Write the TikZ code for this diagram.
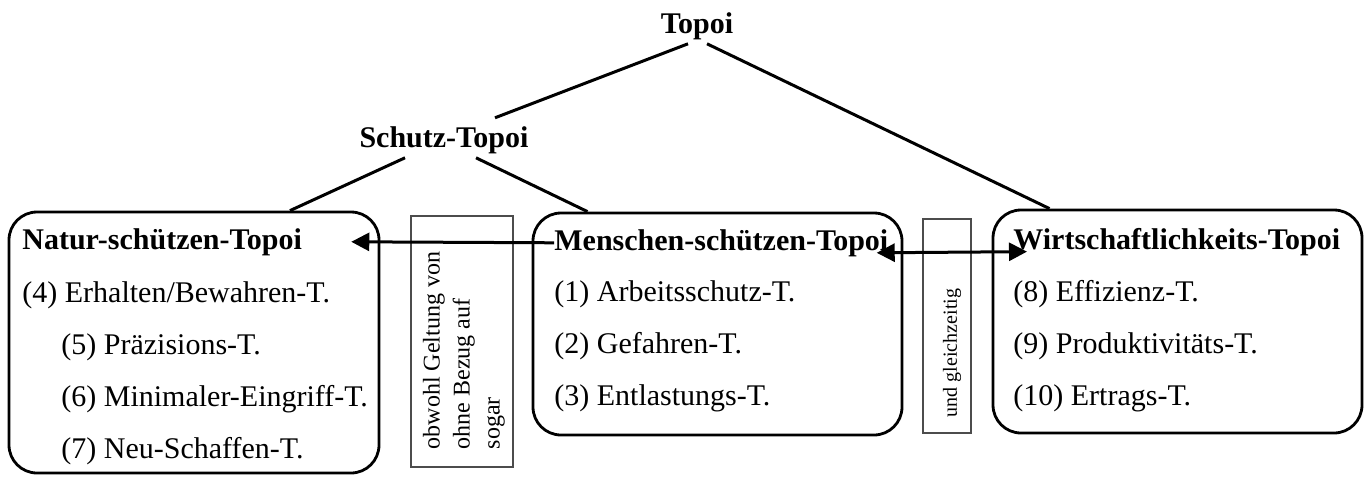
\documentclass[tikz,border=0pt]{standalone}
\usepackage{fontspec}
\setmainfont{Liberation Serif}
\usetikzlibrary{arrows.meta}

\begin{document}
\begin{tikzpicture}[x=0.5pt,y=-0.5pt,
    head/.style={font=\fontsize{15}{18}\selectfont\bfseries,inner sep=2pt},
    ttl/.style={font=\fontsize{15}{18}\selectfont\bfseries,inner sep=0pt,anchor=base west},
    item/.style={font=\fontsize{15}{18}\selectfont,inner sep=0pt,anchor=base west},
    topbox/.style={draw,line width=1.4pt,rounded corners=14pt},
    notebox/.style={draw=black!70,line width=1pt},
    link/.style={line width=1.5pt},
    arr/.style={line width=1.5pt,-{Triangle[length=9pt,width=9pt]}},
    arrboth/.style={line width=1.5pt,{Triangle[length=9pt,width=9pt]}-{Triangle[length=9pt,width=9pt]}}]
      \useasboundingbox (0,0) rectangle (1370,484);
      \node[head,anchor=base] (topoi) at (697,33) {Topoi};
      \node[head,anchor=base] (schutz) at (444,147) {Schutz-Topoi};
      \node[topbox,minimum width=185pt,minimum height=130.5pt] (natur) at (194,342.5) {};
      \node[topbox,minimum width=184.5pt,minimum height=111pt] (menschen) at (717.5,324) {};
      \node[topbox,minimum width=184.5pt,minimum height=111.5pt] (wirt) at (1177.5,321.5) {};
      \node[notebox,minimum width=51pt,minimum height=125.5pt] (obwohl) at (462,341.5) {};
      \node[notebox,minimum width=24pt,minimum height=107pt] (und) at (947,326) {};
      \node[rotate=90,align=left,font=\fontsize{12}{15}\selectfont,inner sep=0pt] (obwohltxt) at (464,350.5) {obwohl Geltung von\\ohne Bezug auf\\sogar};
      \node[rotate=90,font=\fontsize{10}{12}\selectfont,inner sep=0pt] (undtxt) at (952,353) {und gleichzeitig};
      \node[ttl] (ntitle) at (22,249) {Natur-schützen-Topoi};
      \node[item] (n4) at (22,302) {(4) Erhalten/Bewahren-T.};
      \node[item] (n5) at (61,354) {(5) Präzisions-T.};
      \node[item] (n6) at (61,406) {(6) Minimaler-Eingriff-T.};
      \node[item] (n7) at (61,458) {(7) Neu-Schaffen-T.};
      \node[ttl] (mtitle) at (554,250) {Menschen-schützen-Topoi};
      \node[item] (m1) at (554,301) {(1) Arbeitsschutz-T.};
      \node[item] (m2) at (554,353) {(2) Gefahren-T.};
      \node[item] (m3) at (554,405) {(3) Entlastungs-T.};
      \node[ttl] (wtitle) at (1013,249) {Wirtschaftlichkeits-Topoi};
      \node[item] (w8) at (1013,301) {(8) Effizienz-T.};
      \node[item] (w9) at (1013,353) {(9) Produktivitäts-T.};
      \node[item] (w10) at (1013,405) {(10) Ertrags-T.};
      \draw[link] ([xshift=-4.5pt]topoi.south) -- ([xshift=25.5pt,yshift=2pt]schutz.north);
      \draw[link] ([xshift=5pt]topoi.south) -- ([xshift=-64pt]wirt.north);
      \draw[link] ([xshift=-19.5pt]schutz.south) -- ([xshift=48pt]natur.north);
      \draw[link] ([xshift=16pt]schutz.south) -- ([xshift=-65pt]menschen.north);
      \draw[arr] (mtitle.west) -- ([xshift=24.5pt]ntitle.east);
      \draw[arrboth] ([xshift=-6pt,yshift=-5pt]mtitle.east) -- ([xshift=7pt,yshift=-5pt]wtitle.west);
    \end{tikzpicture}
\end{document}
